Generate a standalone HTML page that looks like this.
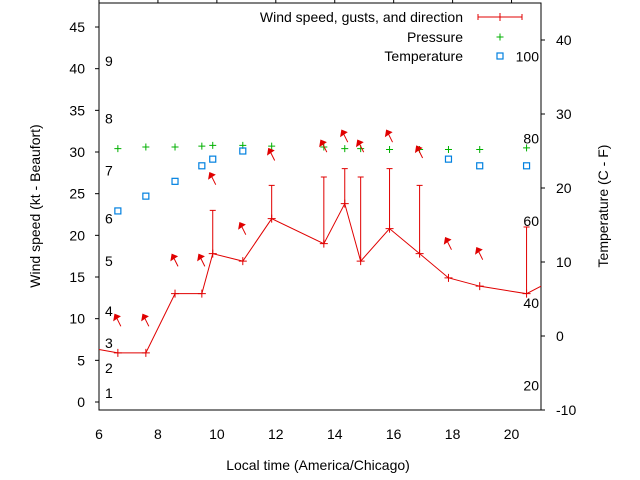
<!DOCTYPE html>
<html><head><meta charset="utf-8"><style>
body{margin:0;background:#fff}
svg{display:block;font-family:"Liberation Sans",sans-serif;font-size:14px}
</style></head><body>
<svg id="c" width="640" height="480"></svg>
<script>
const times=[6.64,7.59,8.58,9.49,9.86,10.88,11.86,13.63,14.34,14.88,15.86,16.88,17.86,18.92,20.51];
const speeds=[5.9,5.9,13,13,17.8,16.9,22,19,23.8,16.9,20.8,17.8,14.9,13.9,13];
const gusts=[null,null,null,null,23,null,26,27,28,27,28,26,null,null,21];
const arrowLevels=[9.8,9.8,17,17,26.8,20.8,29.7,30.7,31.9,30.7,31.9,30,19,17.8,null];
const pressures=[30.4,30.6,30.6,30.7,30.8,30.8,30.7,30.6,30.4,30.4,30.3,30.3,30.3,30.3,30.5];
const tempTimes=[6.64,7.59,8.58,9.49,9.86,10.88,17.86,18.92,20.51];
const temps=[16.9,18.9,20.9,23,23.9,25,23.9,23,23];
const startSpeed=6.3, endSpeed=13.9;
const xTicks=[6,8,10,12,14,16,18,20];
const yTicks=[0,5,10,15,20,25,30,35,40,45];
const y2Ticks=[-10,0,10,20,30,40];
const beaufort=[1,2,3,4,5,6,7,8,9];
const beaufortLevels=[1.1,4.1,7.1,10.9,16.9,22,27.8,34,40.9];
const fahr=[20,40,60,80,100];
const L=99,R=541,T=3,B=410;
const X=t=>L+(t-6)*(R-L)/15;
const Y=v=>402-v*8.333;
const Y2=v=>336-v*7.4;
const s=document.getElementById('c');
const NS='http://www.w3.org/2000/svg';
function mk(tag,a,txt){const e=document.createElementNS(NS,tag);for(const k in a)e.setAttribute(k,a[k]);if(txt!=null)e.textContent=txt;s.appendChild(e);return e;}
let e;
e=mk('rect',{x:L,y:T,width:R-L,height:B-T,fill:'none',stroke:'#000','stroke-width':1});


xTicks.forEach(t=>{
 e=mk('line',{x1:X(t),x2:X(t),y1:T,y2:T-4,stroke:'#000'});
 
 
 e=mk('text',{x:X(t),y:439,'text-anchor':'middle'},t);
 
 
});
yTicks.forEach(v=>{
 e=mk('line',{x1:L-4,x2:L,y1:Y(v),y2:Y(v),stroke:'#000'});
 
 
 e=mk('text',{x:85,y:Y(v)+5,'text-anchor':'end'},v);
 
 
});
y2Ticks.forEach(v=>{
 e=mk('line',{x1:R,x2:R+4,y1:Y2(v),y2:Y2(v),stroke:'#000'});
 
 
 e=mk('text',{x:556,y:Y2(v)+5},v);
 
 
});
beaufort.forEach((b,i)=>{
 e=mk('text',{x:105,y:Y(beaufortLevels[i])+5},b);
 
 
});
fahr.forEach(f=>{
 e=mk('text',{x:539,y:Y2((f-32)*5/9)+5,'text-anchor':'end'},f);
 
 
});
e=mk('text',{x:318,y:470,'text-anchor':'middle'},'Local time (America/Chicago)');


e=mk('text',{x:40,y:206,'text-anchor':'middle',transform:'rotate(-90 40 206)'},'Wind speed (kt - Beaufort)');


e=mk('text',{x:608,y:206,'text-anchor':'middle',transform:'rotate(-90 608 206)'},'Temperature (C - F)');


pressures.forEach((p,i)=>{
 const x=X(times[i]),y=Y(p);
 e=mk('path',{d:`M${x-3.5},${y}h7M${x},${y-3.5}v7`,stroke:'#00b000','stroke-width':1});
 
 
});
temps.forEach((t,i)=>{
 e=mk('rect',{x:X(tempTimes[i])-3,y:Y2(t)-3,width:6,height:6,fill:'none',stroke:'#0080e0','stroke-width':1.2});
 
 
});
let d=`M${L},${Y(startSpeed)}`;
times.forEach((t,i)=>d+=`L${X(t)},${Y(speeds[i])}`);
d+=`L${R},${Y(endSpeed)}`;
e=mk('path',{d,fill:'none',stroke:'#e00000','stroke-width':1});


times.forEach((t,i)=>{
 const x=X(t),y=Y(speeds[i]);
 e=mk('path',{d:`M${x-4},${y}h8M${x},${y-4}v8`,stroke:'#e00000'});
 
 
 if(gusts[i]!=null){
  const g=Y(gusts[i]);
  e=mk('path',{d:`M${x},${y}V${g}M${x-3},${g}h6`,stroke:'#e00000'});
  
  
 }
 if(arrowLevels[i]!=null){
  const ay=Y(arrowLevels[i]);
  e=mk('path',{d:`M${x+3},${ay+6}L${x-3},${ay-6}M${x-3},${ay-6}l-1,6l6,-4z`,stroke:'#e00000',fill:'#e00000'});
  
  
 }
});
e=mk('text',{x:463,y:22,'text-anchor':'end'},'Wind speed, gusts, and direction');


e=mk('path',{d:'M478,17h44M478,14v6M522,14v6M500,13v8',stroke:'#e00000'});


e=mk('text',{x:463,y:42,'text-anchor':'end'},'Pressure');


e=mk('path',{d:'M496.5,37h7M500,33.5v7',stroke:'#00b000'});


e=mk('text',{x:463,y:61,'text-anchor':'end'},'Temperature');


e=mk('rect',{x:497,y:53,width:6,height:6,fill:'none',stroke:'#0080e0','stroke-width':1.2});


</script>
</body></html>
